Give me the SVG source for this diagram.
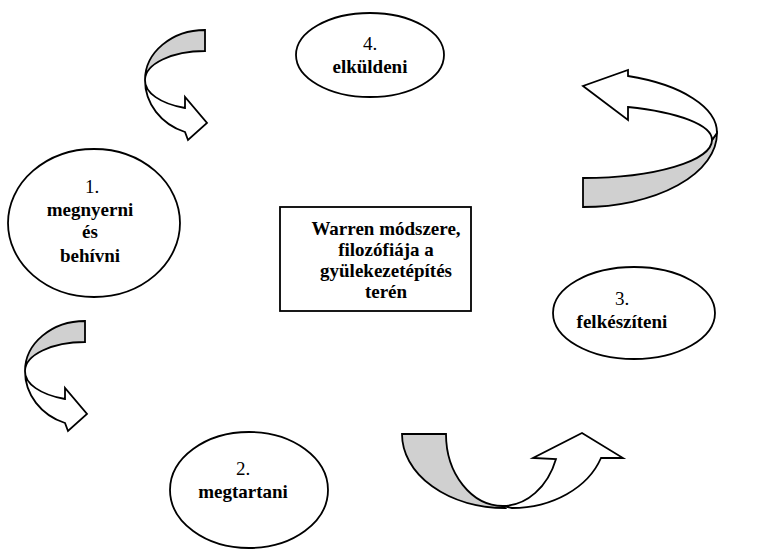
<svg xmlns="http://www.w3.org/2000/svg" width="757" height="551" viewBox="0 0 757 551">
<style>
.n{fill:#fff;stroke:#000;stroke-width:1.8}
.g{fill:#d0d0d0;stroke:#000;stroke-width:1.8;stroke-linejoin:miter}
.w{fill:#fff;stroke:#000;stroke-width:1.8;stroke-linejoin:miter}
text{font-family:"Liberation Serif","Times New Roman",serif;font-size:19px;text-anchor:middle;fill:#000}
.b{font-weight:bold}
</style>
<rect width="757" height="551" fill="#fff"/>
<g id="connectors">
  <g id="arrowA">
    <path class="g" d="M205,30 L205,51 A60,29 0 0 0 145,80 A60,50 0 0 1 205,30 Z"/>
    <path class="w" d="M145,80 A60,55 0 0 0 185,132 L188,140 L207,123 L185,97 L185,108 A60,29 0 0 1 145,80 Z"/>
  </g>
  <g id="arrowC" transform="translate(-120,291)">
    <path class="g" d="M205,30 L205,51 A60,29 0 0 0 145,80 A60,50 0 0 1 205,30 Z"/>
    <path class="w" d="M145,80 A60,55 0 0 0 185,132 L188,140 L207,123 L185,97 L185,108 A60,29 0 0 1 145,80 Z"/>
  </g>
  <g id="arrowB">
    <path class="g" d="M583,178 A129,38 0 0 0 712,140 L717,133 A134,74 0 0 1 583,207 Z"/>
    <path class="w" d="M712,140 A129,35 0 0 0 628,107 L628,120 L583,86 L628,70 L628,76 A134,60 0 0 1 717,133 Z"/>
  </g>
  <g id="arrowD">
    <path class="g" d="M402,434 L446,434 A57,72 0 0 0 503,506 L505,508 A103,74 0 0 1 402,434 Z"/>
    <path class="w" d="M503,506 A57,72 0 0 0 556,459 L533,458 L582,433 L623,458 L601,458 A94,74 0 0 1 512,508 Z"/>
  </g>
</g>
<g id="node4">
  <ellipse class="n" cx="370" cy="55" rx="74" ry="42"/>
  <text x="370" y="50">4.</text>
  <text class="b" x="370" y="73">elküldeni</text>
</g>
<g id="node1">
  <ellipse class="n" cx="94" cy="223" rx="86" ry="74"/>
  <text x="92" y="193">1.</text>
  <text class="b" x="90" y="216">megnyerni</text>
  <text class="b" x="90" y="238">és</text>
  <text class="b" x="90" y="262">behívni</text>
</g>
<g id="center">
  <rect class="n" x="280" y="207" width="191" height="104"/>
  <text class="b" x="386" y="235">Warren módszere,</text>
  <text class="b" x="386" y="256">filozófiája a</text>
  <text class="b" x="386" y="277">gyülekezetépítés</text>
  <text class="b" x="386" y="298">terén</text>
</g>
<g id="node3">
  <ellipse class="n" cx="634" cy="313" rx="81" ry="46"/>
  <text x="622" y="305">3.</text>
  <text class="b" x="622" y="328">felkészíteni</text>
</g>
<g id="node2">
  <ellipse class="n" cx="249" cy="490" rx="79" ry="58"/>
  <text x="243" y="475">2.</text>
  <text class="b" x="243" y="498">megtartani</text>
</g>
</svg>
